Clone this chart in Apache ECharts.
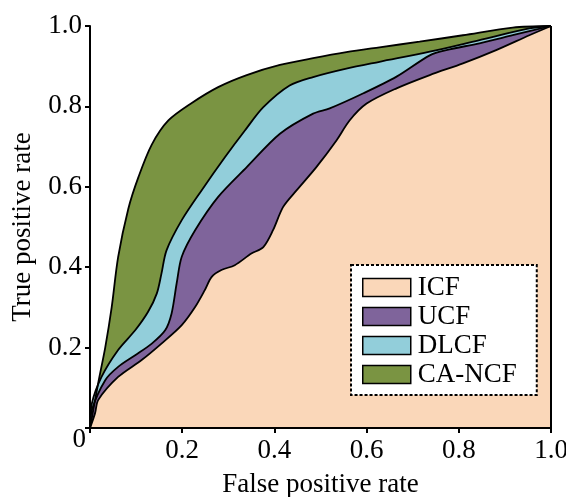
<!DOCTYPE html>
<html><head><meta charset="utf-8">
<script src="https://cdn.jsdelivr.net/npm/echarts@6/dist/echarts.min.js"></script>
<style>html,body{margin:0;padding:0;background:#fff}#c{width:566px;height:497px}</style>
</head><body><div id="c"></div>
<script>
// Legend / series names (legend order)
const seriesNames = ['ICF', 'UCF', 'DLCF', 'CA-NCF'];
const xTicks = [0, 0.2, 0.4, 0.6, 0.8, 1.0];
const yTicks = [0, 0.2, 0.4, 0.6, 0.8, 1.0];

// ROC curves: [false positive rate, true positive rate]
const icf = [[0,0],[0.011,0.037],[0.018,0.070],[0.061,0.127],[0.112,0.169],[0.155,0.210],[0.199,0.256],[0.228,0.301],[0.249,0.343],[0.264,0.376],[0.285,0.393],[0.314,0.405],[0.350,0.434],[0.376,0.450],[0.397,0.492],[0.419,0.550],[0.448,0.591],[0.491,0.649],[0.535,0.716],[0.563,0.765],[0.600,0.807],[0.665,0.845],[0.737,0.878],[0.809,0.907],[0.881,0.940],[0.953,0.977],[1,1]];
const ucf = [[0,0],[0.004,0.045],[0.033,0.119],[0.061,0.152],[0.098,0.181],[0.134,0.210],[0.163,0.243],[0.177,0.285],[0.188,0.360],[0.199,0.426],[0.228,0.492],[0.278,0.575],[0.340,0.649],[0.412,0.732],[0.484,0.782],[0.520,0.795],[0.592,0.832],[0.665,0.874],[0.737,0.927],[0.773,0.940],[0.845,0.957],[0.917,0.977],[1,1]];
const dlcf = [[0,0],[0.004,0.061],[0.025,0.127],[0.061,0.194],[0.098,0.243],[0.126,0.289],[0.145,0.335],[0.155,0.384],[0.166,0.442],[0.199,0.517],[0.242,0.591],[0.293,0.674],[0.336,0.740],[0.376,0.798],[0.433,0.852],[0.484,0.873],[0.556,0.894],[0.628,0.911],[0.737,0.936],[0.845,0.965],[0.953,0.994],[1,1]];
const cancf = [[0,0],[0.018,0.113],[0.033,0.200],[0.047,0.300],[0.061,0.425],[0.083,0.545],[0.105,0.624],[0.134,0.705],[0.170,0.765],[0.220,0.808],[0.278,0.848],[0.340,0.878],[0.412,0.903],[0.484,0.920],[0.556,0.935],[0.628,0.947],[0.715,0.961],[0.809,0.977],[0.917,0.996],[1,1]];

const colors = {'ICF':'#FAD7B9','UCF':'#7F649B','DLCF':'#92CEDA','CA-NCF':'#7A9442'};
const FONT = 'Liberation Serif, Times New Roman, serif';

function mk(name, data, extra) {
  return Object.assign({
    name: name, type: 'line', data: data,
    smooth: 0.3,
    symbol: 'none', showSymbol: false,
    itemStyle: {color: colors[name]},
    lineStyle: {color: '#000', width: 1.8},
    areaStyle: {color: colors[name], opacity: 1, origin: 'start'},
    emphasis: {disabled: true}
  }, extra || {});
}

const chart = echarts.init(document.getElementById('c'), null, {renderer: 'canvas'});
chart.setOption({
  animation: false,
  backgroundColor: '#fff',
  grid: {left: 90, right: 15, top: 26, bottom: 69, containLabel: false, outerBoundsMode: 'none'},
  xAxis: {
    type: 'value', min: 0, max: 1, interval: 0.2, z: 10,
    name: 'False positive rate', nameLocation: 'middle', nameGap: 43, nameMoveOverlap: false,
    nameTextStyle: {color: '#000', fontSize: 27, fontFamily: FONT, lineHeight: 27},
    axisLine: {show: true, onZero: false, lineStyle: {color: '#000', width: 2}},
    axisTick: {show: true, inside: false, length: 5, lineStyle: {color: '#000', width: 2}},
    splitLine: {show: false},
    axisLabel: {
      color: '#000', fontSize: 27, fontFamily: FONT, lineHeight: 27, margin: 9,
      showMinLabel: true, showMaxLabel: true,
      formatter: function (v) { return v === 0 ? '' : v.toFixed(1); }
    }
  },
  yAxis: {
    type: 'value', min: 0, max: 1, interval: 0.2, z: 10,
    name: 'True positive rate', nameLocation: 'middle', nameGap: 54, nameMoveOverlap: false,
    nameTextStyle: {color: '#000', fontSize: 27, fontFamily: FONT, lineHeight: 27},
    axisLine: {show: true, onZero: false, lineStyle: {color: '#000', width: 2}},
    axisTick: {show: true, inside: false, length: 5, lineStyle: {color: '#000', width: 2}},
    splitLine: {show: false},
    axisLabel: {
      color: '#000', fontSize: 27, fontFamily: FONT, lineHeight: 27, margin: 4,
      showMinLabel: true, showMaxLabel: true,
      formatter: function (v) { return v === 0 ? '{z|0}' : '{n|' + v.toFixed(1) + '}'; },
      rich: {
        n: {color: '#000', fontSize: 27, fontFamily: FONT, lineHeight: 27, padding: [0, 4, 0, 0]},
        z: {color: '#000', fontSize: 27, fontFamily: FONT, lineHeight: 27, padding: [24, 0, 0, 0]}
      }
    }
  },
  legend: {
    data: seriesNames,
    orient: 'vertical', left: 351, top: 265,
    padding: [9, 20, 7, 11],
    itemGap: 2, itemWidth: 48, itemHeight: 18,
    icon: 'rect',
    itemStyle: {borderColor: '#000', borderWidth: 1.5},
    backgroundColor: '#fff',
    borderColor: '#000', borderWidth: 2, borderType: [3, 2],
    selectedMode: false,
    textStyle: {color: '#000', fontSize: 27, fontFamily: FONT, lineHeight: 27, padding: [0, 0, 0, 2]}
  },
  series: [
    mk('CA-NCF', cancf),
    mk('DLCF', dlcf),
    mk('UCF', ucf),
    mk('ICF', icf, {
      markLine: {
        silent: true, symbol: 'none', label: {show: false},
        lineStyle: {color: '#000', type: 'solid', width: 2},
        data: [{xAxis: 1}]
      }
    })
  ]
});
</script>
</body></html>
